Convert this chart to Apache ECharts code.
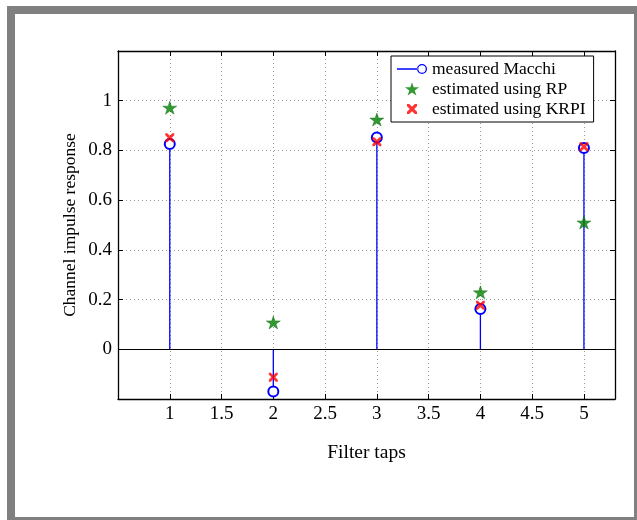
<!DOCTYPE html>
<html>
<head>
<meta charset="utf-8">
<script src="https://cdn.jsdelivr.net/npm/echarts@6/dist/echarts.min.js"></script>
<style>
html,body{margin:0;padding:0;background:#fff;}
#chart{width:637px;height:520px;}
</style>
</head>
<body>
<div id="chart"></div>
<script>
const taps = [1, 2, 3, 4, 5];
const measuredMacchi = [0.826, -0.170, 0.852, 0.162, 0.810];
const estimatedRP = [0.972, 0.108, 0.924, 0.229, 0.510];
const estimatedKRPI = [0.851, -0.112, 0.835, 0.177, 0.815];
const seriesNames = ['measured Macchi', 'estimated using RP', 'estimated using KRPI'];
const xAxisTitle = 'Filter taps';
const yAxisTitle = 'Channel impulse response';

const STAR_SHAPE = 'M0,-100L22.5,-30.9L95.1,-30.9L36.3,11.8L58.8,80.9L0,38.2L-58.8,80.9L-36.3,11.8L-95.1,-30.9L-22.5,-30.9Z';
const STAR = 'path://' + STAR_SHAPE;
const STAR_LEGEND = 'path://M-100,-102L-99.9,-102L-99.9,-101.9ZM100,86L99.9,86L99.9,85.9Z' + STAR_SHAPE;
const CROSS = 'path://M0,0L2.2,0L5,2.8L7.8,0L10,0L10,2.2L7.2,5L10,7.8L10,10L7.8,10L5,7.2L2.2,10L0,10L0,7.8L2.8,5L0,2.2Z';
const CROSS_LEGEND = 'path://M-2,-2L-1.99,-2L-1.99,-1.99ZM12,12L11.99,12L11.99,11.99ZM0,0L2.2,0L5,2.8L7.8,0L10,0L10,2.2L7.2,5L10,7.8L10,10L7.8,10L5,7.2L2.2,10L0,10L0,7.8L2.8,5L0,2.2Z';
const STEM_LEGEND = 'path://M0,0L0.01,0L0.01,0.01ZM30,14L29.99,14L29.99,13.99Z' +
  'M0,6.3L20.5,6.3L20.5,7.7L0,7.7Z' +
  'M30,7A5,5 0 1 0 20,7A5,5 0 1 0 30,7Z' +
  'M28.7,7A3.7,3.7 0 1 1 21.3,7A3.7,3.7 0 1 1 28.7,7Z';
const FONT = 'Liberation Serif';

const pairs = a => taps.map((t, i) => [t, a[i]]);

const chart = echarts.init(document.getElementById('chart'), null, {renderer: 'canvas'});

const gridLine = {show: true, lineStyle: {color: '#999', type: [1, 3], width: 1}};
const xBase = {
  type: 'value', min: 0.5, max: 5.3, interval: 0.5,
  axisLine: {show: true, onZero: false, lineStyle: {color: '#000', width: 1.3}},
  axisTick: {show: true, inside: true, length: 5, lineStyle: {color: '#000'}},
};
const yBase = {
  type: 'value', min: -0.2, max: 1.2, interval: 0.2,
  axisLine: {show: true, onZero: false, lineStyle: {color: '#000', width: 1.3}},
  axisTick: {show: true, inside: true, length: 5, lineStyle: {color: '#000'}},
};

chart.setOption({
  animation: false,
  backgroundColor: 'transparent',
  graphic: [
    {type: 'rect', z: -10, silent: true, shape: {x: 7, y: 6, width: 630, height: 514}, style: {fill: '#808080'}},
    {type: 'rect', z: -9, silent: true, shape: {x: 15, y: 14, width: 619, height: 503}, style: {fill: '#ffffff'}}
  ],
  grid: {left: 118, right: 22, top: 51, bottom: 121, show: false},
  legend: {
    data: [
      {name: seriesNames[0], icon: STEM_LEGEND, itemStyle: {color: '#0000ff', borderWidth: 0}},
      {name: seriesNames[1], icon: STAR_LEGEND, itemStyle: {borderWidth: 0}},
      {name: seriesNames[2], icon: CROSS_LEGEND}
    ],
    orient: 'vertical',
    left: 391, top: 56,
    backgroundColor: '#fff',
    borderColor: '#000', borderWidth: 1,
    padding: [4, 8, 4, 6],
    itemGap: 2,
    itemWidth: 30, itemHeight: 14,
    textStyle: {fontFamily: FONT, fontSize: 17.5, color: '#000', lineHeight: 16},
    selectedMode: false
  },
  xAxis: [
    Object.assign({}, xBase, {
      position: 'bottom',
      name: xAxisTitle, nameLocation: 'middle', nameGap: 44, nameMoveOverlap: false,
      nameTextStyle: {fontFamily: FONT, fontSize: 19.5, color: '#000'},
      splitLine: gridLine,
      axisLabel: {show: true, showMinLabel: false, showMaxLabel: false, margin: 6,
        fontFamily: FONT, fontSize: 19, color: '#000',
        formatter: v => String(v)}
    }),
    Object.assign({}, xBase, {position: 'top', splitLine: {show: false}, axisLabel: {show: false}})
  ],
  yAxis: [
    Object.assign({}, yBase, {
      position: 'left',
      name: yAxisTitle, nameLocation: 'middle', nameGap: 39, nameRotate: 90, nameMoveOverlap: false,
      nameTextStyle: {fontFamily: FONT, fontSize: 17.5, color: '#000'},
      splitLine: gridLine,
      axisLabel: {show: true, showMinLabel: false, showMaxLabel: false, margin: 6,
        fontFamily: FONT, fontSize: 19, color: '#000',
        formatter: v => String(Math.round(v * 10) / 10)}
    }),
    Object.assign({}, yBase, {position: 'right', splitLine: {show: false}, axisLabel: {show: false}})
  ],
  series: [
    {
      type: 'custom', name: 'stems', xAxisIndex: 0, yAxisIndex: 0, z: 2,
      data: pairs(measuredMacchi),
      renderItem: function (params, api) {
        const p0 = api.coord([api.value(0), 0]);
        const p1 = api.coord([api.value(0), api.value(1)]);
        return {type: 'line', shape: {x1: p0[0], y1: p0[1], x2: p1[0], y2: p1[1]},
          style: {stroke: '#0000ff', lineWidth: 1.3}};
      },
      markLine: {
        silent: true, symbol: ['none', 'none'], label: {show: false},
        lineStyle: {color: '#000', type: 'solid', width: 1.2},
        data: [{yAxis: 0}]
      }
    },
    {
      type: 'line', name: seriesNames[0], z: 3,
      data: pairs(measuredMacchi),
      symbol: 'emptyCircle', symbolSize: 10,
      lineStyle: {opacity: 0},
      itemStyle: {color: '#0000ff', borderColor: '#0000ff', borderWidth: 1.3}
    },
    {
      type: 'scatter', name: seriesNames[1], z: 4,
      data: pairs(estimatedRP),
      symbol: STAR, symbolSize: [14, 13],
      itemStyle: {color: '#008000', borderColor: '#006400', borderWidth: 0.5}
    },
    {
      type: 'scatter', name: seriesNames[2], z: 5,
      data: pairs(estimatedKRPI),
      symbol: CROSS, symbolSize: [9, 9],
      itemStyle: {color: '#ff0000'}
    }
  ]
});
</script>
</body>
</html>
